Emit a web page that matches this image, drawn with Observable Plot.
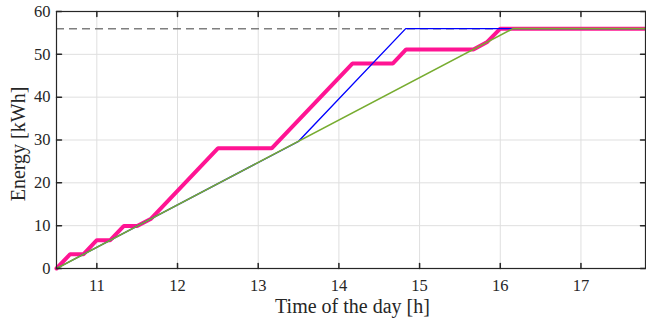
<!DOCTYPE html>
<html><head><meta charset="utf-8">
<script src="https://cdn.jsdelivr.net/npm/d3@7"></script>
<script src="https://cdn.jsdelivr.net/npm/@observablehq/plot@0.6"></script>
<style>body{margin:0;background:#fff} #chart svg{font-family:"Liberation Serif",serif;}</style>
</head><body><div id="chart"></div>
<script>
const capacity = 56;
const greenT = [10.5, 16.157, 17.8];
const greenE = [0, 56, 56];
const blueT = [10.5, 13.5, 14.828, 17.8];
const blueE = [0, 29.7, 56, 56];
const pinkT = [10.5, 10.667, 10.833, 11.0, 11.167, 11.333, 11.5, 11.667, 12.5, 13.167, 14.167, 14.667, 14.833, 15.667, 15.833, 16.0, 17.8];
const pinkE = [0, 3.3, 3.3, 6.6, 6.6, 9.9, 9.9, 11.55, 28.05, 28.05, 47.85, 47.85, 51.15, 51.15, 52.8, 56, 56];
const xTicks = [11, 12, 13, 14, 15, 16, 17];
const yTicks = [0, 10, 20, 30, 40, 50, 60];
const xLabel = "Time of the day [h]";
const yLabel = "Energy [kWh]";

const green = greenT.map((t, i) => ({t, e: greenE[i]}));
const blue = blueT.map((t, i) => ({t, e: blueE[i]}));
const pink = pinkT.map((t, i) => ({t, e: pinkE[i]}));
const tickShape = {draw(c, l) { c.moveTo(0, 0); c.lineTo(0, -l); }};
const axisColor = "#262626";

const chart = Plot.plot({
  width: 646, height: 320,
  marginLeft: 56, marginRight: 1, marginTop: 11, marginBottom: 52,
  style: {fontFamily: "'Liberation Serif', serif", fontSize: "16px", color: axisColor, background: "#fff"},
  x: {domain: [10.5, 17.8]},
  y: {domain: [0, 60]},
  marks: [
    Plot.gridX(xTicks, {stroke: "#dfdfdf", strokeOpacity: 1}),
    Plot.gridY(yTicks, {stroke: "#dfdfdf", strokeOpacity: 1}),
    Plot.ruleY([capacity], {stroke: "#7f7f7f", strokeWidth: 1.5, strokeDasharray: "8,5"}),
    Plot.line(pink, {x: "t", y: "e", stroke: "#ff1493", strokeWidth: 4, strokeLinejoin: "miter"}),
    Plot.line(blue, {x: "t", y: "e", stroke: "#0000ff", strokeWidth: 1.4}),
    Plot.line(green, {x: "t", y: "e", stroke: "#77ac30", strokeWidth: 1.6}),
    Plot.frame({stroke: axisColor, strokeWidth: 1.2}),
    Plot.vector(xTicks, {x: d => d, frameAnchor: "bottom", length: 5, anchor: "start", rotate: 0, shape: tickShape, stroke: axisColor}),
    Plot.vector(xTicks, {x: d => d, frameAnchor: "top", length: 5, anchor: "start", rotate: 180, shape: tickShape, stroke: axisColor}),
    Plot.vector(yTicks, {y: d => d, frameAnchor: "left", length: 5, anchor: "start", rotate: 90, shape: tickShape, stroke: axisColor}),
    Plot.vector(yTicks, {y: d => d, frameAnchor: "right", length: 5, anchor: "start", rotate: -90, shape: tickShape, stroke: axisColor}),
    Plot.axisX(xTicks, {tickSize: 0, tickPadding: 11, label: null, tickFormat: d => String(d), fontSize: 16.5}),
    Plot.axisY(yTicks, {tickSize: 0, tickPadding: 6, label: null, tickFormat: d => String(d), fontSize: 16.5}),
    Plot.text([xLabel], {text: d => d, frameAnchor: "bottom", dx: 1.5, dy: 38.5, lineAnchor: "middle", fontSize: 20}),
    Plot.text([yLabel], {text: d => d, frameAnchor: "left", dx: -37.5, dy: 4, rotate: -90, lineAnchor: "middle", textAnchor: "middle", fontSize: 20})
  ]
});
document.getElementById("chart").appendChild(chart);
</script>
</body></html>
